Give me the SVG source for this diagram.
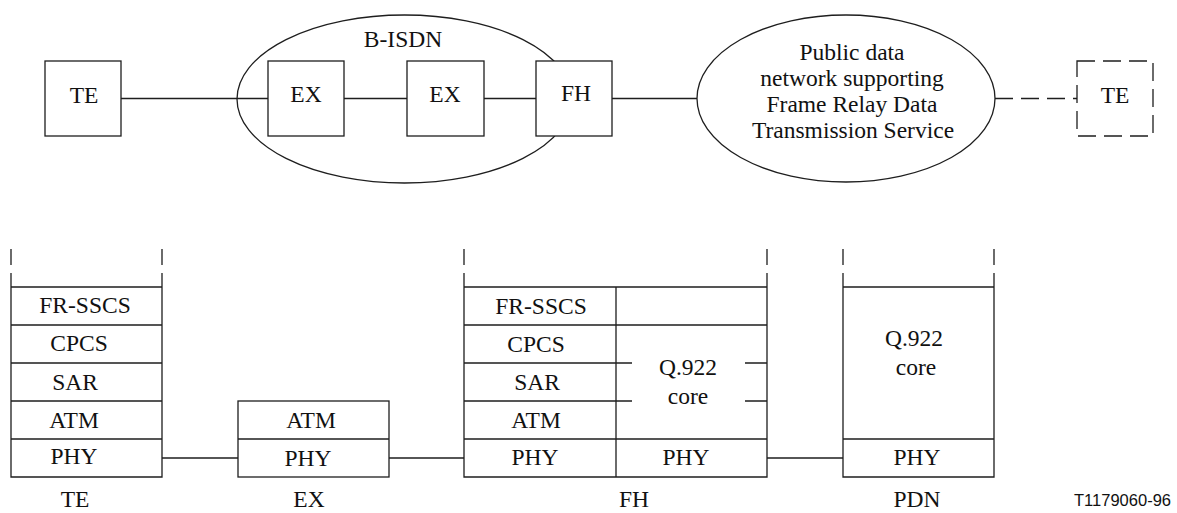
<svg xmlns="http://www.w3.org/2000/svg" width="1177" height="513" viewBox="0 0 1177 513">
<style>
.s{fill:none;stroke:#1e1e1e;stroke-width:1.3}
.b{fill:#fff;stroke:#1e1e1e;stroke-width:1.3}
.d{fill:none;stroke:#1e1e1e;stroke-width:1.3;stroke-dasharray:18 8}
.t{font-family:'Liberation Serif','Times New Roman',serif;font-size:23.5px;fill:#111;text-anchor:middle}
.c{font-family:'Liberation Sans',Arial,sans-serif;font-size:16px;fill:#111}
</style>
<rect width="1177" height="513" fill="#fff"/>
<g id="connectors">
<line class="s" x1="121" y1="98.5" x2="268" y2="98.5"/>
<line class="s" x1="344" y1="98.5" x2="407" y2="98.5"/>
<line class="s" x1="484" y1="98.5" x2="536" y2="98.5"/>
<line class="s" x1="612" y1="98.5" x2="697" y2="98.5"/>
<line class="d" x1="995" y1="98.5" x2="1077" y2="98.5"/>
<line class="s" x1="162" y1="458" x2="238" y2="458"/>
<line class="s" x1="389" y1="458" x2="464" y2="458"/>
<line class="s" x1="767" y1="458" x2="843" y2="458"/>
</g>
<g id="bisdn">
<ellipse class="s" cx="404.5" cy="99" rx="167.5" ry="84"/>
<text class="t" x="403" y="47">B-ISDN</text>
</g>
<g id="te-top">
<rect class="b" x="45" y="61" width="76" height="75"/>
<text class="t" x="84" y="103">TE</text>
</g>
<g id="ex1-top">
<rect class="b" x="268" y="61" width="76" height="75"/>
<text class="t" x="306" y="102">EX</text>
</g>
<g id="ex2-top">
<rect class="b" x="407" y="61" width="77" height="75"/>
<text class="t" x="445" y="102">EX</text>
</g>
<g id="fh-top">
<rect class="b" x="536" y="61" width="76" height="75"/>
<text class="t" x="576" y="101">FH</text>
</g>
<g id="pdn-top">
<ellipse class="s" cx="846" cy="98.5" rx="149" ry="83.5"/>
<text class="t" x="852" y="60">Public data</text>
<text class="t" x="852" y="86">network supporting</text>
<text class="t" x="852" y="112">Frame Relay Data</text>
<text class="t" x="853" y="138">Transmission Service</text>
</g>
<g id="te-remote">
<rect class="d" x="1077" y="61" width="76" height="75"/>
<text class="t" x="1115" y="103">TE</text>
</g>
<g id="te-stack">
<path class="s" d="M11 249V265M11 273V477H162V273M162 249V265M11 287H162M11 325H162M11 363H162M11 401H162M11 439H162"/>
<text class="t" x="85" y="313">FR-SSCS</text>
<text class="t" x="79" y="351">CPCS</text>
<text class="t" x="75" y="390">SAR</text>
<text class="t" x="74" y="428">ATM</text>
<text class="t" x="74" y="464">PHY</text>
<text class="t" x="75" y="507">TE</text>
</g>
<g id="ex-stack">
<rect class="s" x="238" y="401" width="151" height="76"/>
<line class="s" x1="238" y1="439" x2="389" y2="439"/>
<text class="t" x="311" y="428">ATM</text>
<text class="t" x="308" y="466">PHY</text>
<text class="t" x="309" y="507">EX</text>
</g>
<g id="fh-stack">
<path class="s" d="M464 249V265M464 273V477H767V273M767 249V265M464 287H767M616 287V477M464 325H767M464 363H632M745 363H767M464 401H632M745 401H767M464 439H767"/>
<text class="t" x="541" y="314">FR-SSCS</text>
<text class="t" x="536" y="352">CPCS</text>
<text class="t" x="537" y="390">SAR</text>
<text class="t" x="536" y="428">ATM</text>
<text class="t" x="535" y="465">PHY</text>
<text class="t" x="688" y="375">Q.922</text>
<text class="t" x="688" y="404">core</text>
<text class="t" x="686" y="465">PHY</text>
<text class="t" x="634" y="507">FH</text>
</g>
<g id="pdn-stack">
<path class="s" d="M843 249V265M843 273V477H994V273M994 249V265M843 287H994M843 439H994"/>
<text class="t" x="914" y="346">Q.922</text>
<text class="t" x="916" y="375">core</text>
<text class="t" x="917" y="465">PHY</text>
<text class="t" x="917" y="507">PDN</text>
</g>
<text class="c" x="1074" y="506" textLength="97" lengthAdjust="spacingAndGlyphs">T1179060-96</text>
</svg>
